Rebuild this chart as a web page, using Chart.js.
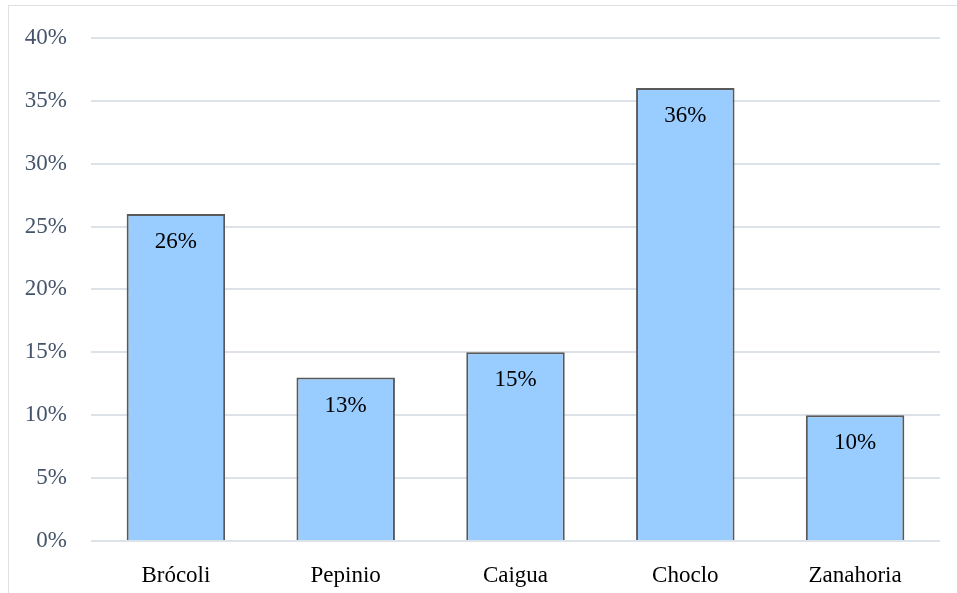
<!DOCTYPE html>
<html>
<head>
    <title>Verduras</title>
    <script src="https://cdn.jsdelivr.net/npm/chart.js@4/dist/chart.umd.min.js"></script>
    <style>
        body {
            margin: 0;
            padding: 0;
            background: #ffffff;
            overflow: hidden;
        }
        .frame {
            position: absolute;
            left: 8px;
            top: 5px;
            width: 1000px;
            height: 700px;
            border-left: 1px solid #dde1e6;
            border-top: 1px solid #dde1e6;
        }
        .chart-container {
            position: relative;
            width: 957px;
            height: 593px;
        }
    </style>
</head>
<body>
    <div class="frame"></div>
    <div class="chart-container">
        <canvas id="barChart"></canvas>
    </div>

    <script>
        // Data
        const categories = ['Brócoli', 'Pepinio', 'Caigua', 'Choclo', 'Zanahoria'];
        const percentages = [26, 13, 15, 36, 10];
        const yTicks = [0, 5, 10, 15, 20, 25, 30, 35, 40];

        const serif = "'Liberation Serif', 'Times New Roman', serif";

        // Labels drawn inside the top of each bar
        const barLabels = {
            id: 'barLabels',
            afterDatasetsDraw(chart) {
                const ctx = chart.ctx;
                const meta = chart.getDatasetMeta(0);
                ctx.save();
                ctx.font = '23px ' + serif;
                ctx.fillStyle = '#000000';
                ctx.textAlign = 'center';
                ctx.textBaseline = 'middle';
                meta.data.forEach((bar, i) => {
                    ctx.fillText(percentages[i] + '%', bar.x, bar.y + 28);
                });
                ctx.restore();
            }
        };

        const ctx = document.getElementById('barChart').getContext('2d');
        new Chart(ctx, {
            type: 'bar',
            data: {
                labels: categories,
                datasets: [{
                    data: percentages,
                    backgroundColor: '#99ccff',
                    borderColor: '#595959',
                    borderWidth: 2,
                    barPercentage: 0.58,
                    categoryPercentage: 1
                }]
            },
            options: {
                responsive: true,
                maintainAspectRatio: false,
                animation: false,
                layout: {
                    padding: { left: 0, right: 17, top: 36, bottom: 0 }
                },
                plugins: {
                    legend: { display: false },
                    tooltip: { enabled: false }
                },
                scales: {
                    x: {
                        grid: { display: false },
                        border: { display: false },
                        ticks: {
                            color: '#000000',
                            font: { family: serif, size: 23 },
                            padding: 13
                        },
                        afterFit(scale) { scale.height = 52; }
                    },
                    y: {
                        min: 0,
                        max: 40,
                        afterBuildTicks(scale) {
                            scale.ticks = yTicks.map(v => ({ value: v }));
                        },
                        grid: {
                            color: '#dde2e8',
                            lineWidth: 2,
                            drawTicks: false
                        },
                        border: { display: false },
                        ticks: {
                            color: '#44546a',
                            font: { family: serif, size: 23 },
                            padding: 24,
                            callback: v => v + '%'
                        },
                        afterFit(scale) { scale.width = 91; }
                    }
                }
            },
            plugins: [barLabels]
        });
    </script>
</body>
</html>
